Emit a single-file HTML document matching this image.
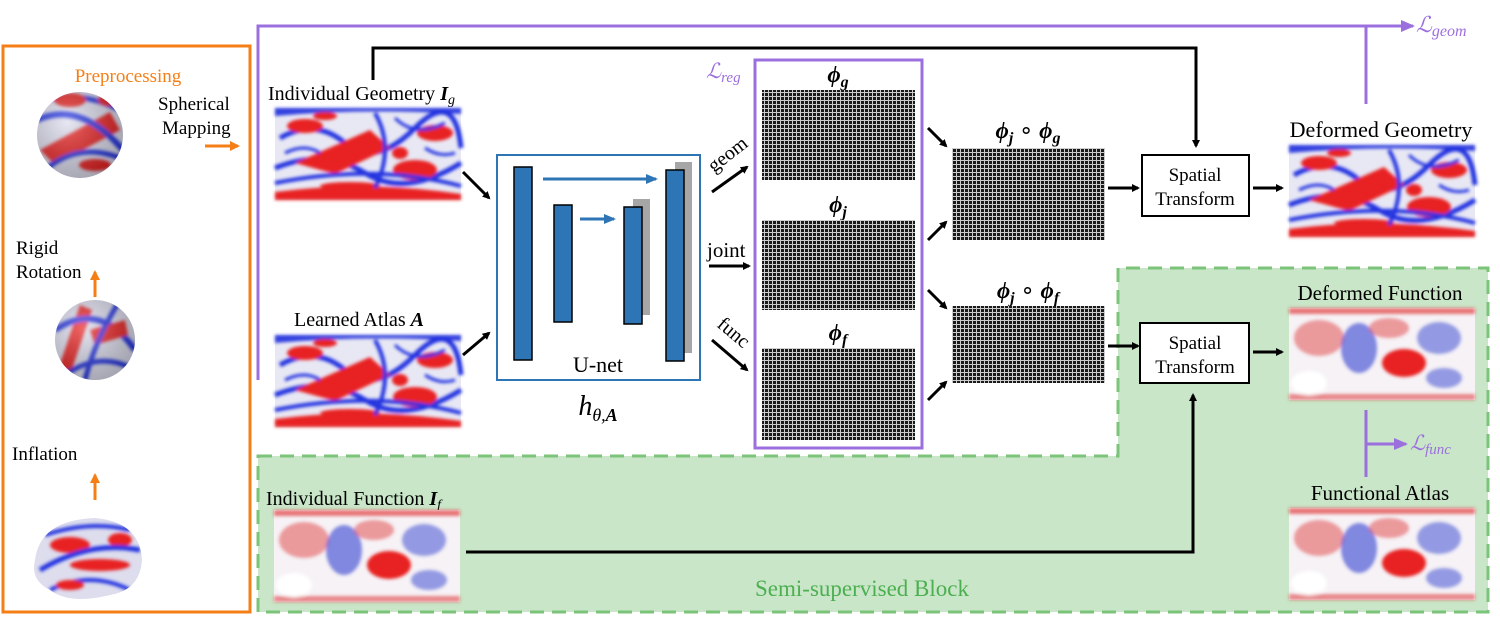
<!DOCTYPE html>
<html><head><meta charset="utf-8"><style>
body{margin:0;background:#fff;width:1500px;height:627px;overflow:hidden}
svg{display:block}
text{font-family:"Liberation Serif",serif}
</style></head><body>
<svg width="1500" height="627" viewBox="0 0 1500 627">
<defs>
<marker id="ab" markerWidth="8" markerHeight="8" refX="6" refY="4" orient="auto" markerUnits="userSpaceOnUse"><path d="M0,0 L8,4 L0,8 z" fill="#000"/></marker>
<marker id="ao" markerWidth="10" markerHeight="10" refX="8" refY="5" orient="auto" markerUnits="userSpaceOnUse"><path d="M0,0 L10,5 L0,10 z" fill="#f57f17"/></marker>
<marker id="ap" markerWidth="14" markerHeight="12" refX="12" refY="6" orient="auto" markerUnits="userSpaceOnUse"><path d="M0,0 L14,6 L0,12 z" fill="#9c6fde"/></marker>
<marker id="abl" markerWidth="12" markerHeight="10" refX="10" refY="5" orient="auto" markerUnits="userSpaceOnUse"><path d="M0,0 L12,5 L0,10 z" fill="#2e75b6"/></marker>
<pattern id="grid" width="4" height="4" patternUnits="userSpaceOnUse"><rect width="4" height="4" fill="#1a1a1a"/><path d="M0,0.5H4M0.5,0V4" stroke="#ccc" stroke-width="1"/></pattern>
<filter id="bl"><feGaussianBlur stdDeviation="1.5"/></filter>
<radialGradient id="sph" cx="0.35" cy="0.35" r="0.7"><stop offset="0" stop-color="#fff" stop-opacity="0.3"/><stop offset="1" stop-color="#000" stop-opacity="0.25"/></radialGradient>
<g id="geo">
<rect width="186" height="92" fill="#e8e8f4"/>
<g filter="url(#bl)">
<path d="M0,84 Q90,72 186,86 L186,92 L0,92z" fill="#e82020"/>
<path d="M0,8 Q90,0 186,6 L186,0 L0,0z" fill="#3040e0"/>
<path d="M5,30 Q40,10 70,35 T140,20 T186,40" stroke="#2030e0" stroke-width="5" fill="none"/>
<path d="M0,60 Q50,40 90,65 T186,55" stroke="#2030e0" stroke-width="5" fill="none"/>
<path d="M20,55 L95,22 L115,40 L60,66z" fill="#e82020"/>
<ellipse cx="140" cy="62" rx="22" ry="10" fill="#e82020"/>
<ellipse cx="30" cy="18" rx="18" ry="7" fill="#e82020"/>
<ellipse cx="160" cy="25" rx="18" ry="8" fill="#e82020"/>
<ellipse cx="75" cy="78" rx="30" ry="4" fill="#e82020"/>
<path d="M0,75 Q100,55 186,78" stroke="#2030e0" stroke-width="4" fill="none"/>
<path d="M100,5 Q120,40 100,80" stroke="#2030e0" stroke-width="4" fill="none"/>
<path d="M10,45 Q30,35 45,45 M120,10 Q140,30 170,15 M150,40 Q165,50 180,45" stroke="#2030e0" stroke-width="3" fill="none"/>
<ellipse cx="50" cy="8" rx="12" ry="4" fill="#e82020"/>
<ellipse cx="125" cy="45" rx="8" ry="6" fill="#e82020"/>
</g></g>
<g id="fun">
<rect width="186" height="92" fill="#f6f2f6"/>
<g filter="url(#bl)">
<rect x="0" y="0" width="186" height="6" fill="#e04040" opacity="0.7"/>
<rect x="0" y="86" width="186" height="6" fill="#e04040" opacity="0.6"/>
<ellipse cx="30" cy="30" rx="25" ry="18" fill="#e04040" opacity="0.5"/>
<ellipse cx="70" cy="40" rx="18" ry="25" fill="#3040d0" opacity="0.6"/>
<ellipse cx="115" cy="55" rx="22" ry="14" fill="#e82020"/>
<ellipse cx="150" cy="30" rx="22" ry="16" fill="#3040d0" opacity="0.5"/>
<ellipse cx="100" cy="20" rx="20" ry="10" fill="#e04040" opacity="0.5"/>
<ellipse cx="155" cy="70" rx="18" ry="10" fill="#3040d0" opacity="0.5"/>
<ellipse cx="20" cy="75" rx="18" ry="12" fill="#fff"/>
</g></g>
</defs>

<path d="M258,456 H1118 V268 H1488 V612 H258 Z" fill="#c9e6c8" stroke="#7cc47a" stroke-width="3" stroke-dasharray="14,8"/>
<text x="862" y="596" font-size="23" fill="#4caf50" text-anchor="middle">Semi-supervised Block</text>

<rect x="3" y="46" width="247" height="566" fill="none" stroke="#f57f17" stroke-width="3"/>
<text x="128" y="82" font-size="19" fill="#f57f17" text-anchor="middle">Preprocessing</text>
<g><circle cx="80" cy="135" r="43" fill="#dde"/><clipPath id="c1"><circle cx="80" cy="135" r="43"/></clipPath><g clip-path="url(#c1)" filter="url(#bl)"><path d="M40,150 L110,112 L120,130 L55,165z" fill="#e82020"/><path d="M37,120 Q80,100 123,150" stroke="#2030e0" stroke-width="6" fill="none"/><path d="M45,170 Q80,140 125,160" stroke="#2030e0" stroke-width="5" fill="none"/><path d="M40,100 Q80,90 120,110" stroke="#2030e0" stroke-width="5" fill="none"/><ellipse cx="70" cy="100" rx="16" ry="7" fill="#e82020"/><ellipse cx="95" cy="165" rx="16" ry="6" fill="#e82020"/><ellipse cx="108" cy="100" rx="10" ry="6" fill="#e82020"/></g><circle cx="80" cy="135" r="43" fill="url(#sph)"/></g>
<g><circle cx="95" cy="340" r="40" fill="#dde"/><clipPath id="c2"><circle cx="95" cy="340" r="40"/></clipPath><g clip-path="url(#c2)" filter="url(#bl)"><path d="M58,370 L80,305 L92,310 L70,375z" fill="#e82020"/><path d="M55,330 Q100,300 135,350" stroke="#2030e0" stroke-width="6" fill="none"/><path d="M65,375 Q100,350 135,370" stroke="#2030e0" stroke-width="5" fill="none"/><path d="M90,330 L125,320 L128,335 L95,345z" fill="#e82020"/><path d="M85,380 Q95,340 120,300" stroke="#2030e0" stroke-width="5" fill="none"/></g><circle cx="95" cy="340" r="40" fill="url(#sph)"/></g>
<g><clipPath id="c3"><path d="M35,560 Q40,520 95,518 Q140,522 142,560 Q140,590 110,595 Q70,605 50,590 Q30,580 35,560z"/></clipPath><path d="M35,560 Q40,520 95,518 Q140,522 142,560 Q140,590 110,595 Q70,605 50,590 Q30,580 35,560z" fill="#dde"/><g clip-path="url(#c3)" filter="url(#bl)"><ellipse cx="70" cy="545" rx="20" ry="8" fill="#e82020"/><ellipse cx="100" cy="565" rx="30" ry="6" fill="#e82020"/><ellipse cx="120" cy="540" rx="12" ry="7" fill="#e82020"/><path d="M40,570 Q90,540 140,550" stroke="#2030e0" stroke-width="5" fill="none"/><path d="M50,590 Q90,570 130,590" stroke="#2030e0" stroke-width="4" fill="none"/><path d="M45,535 Q90,520 130,530" stroke="#2030e0" stroke-width="4" fill="none"/><ellipse cx="70" cy="585" rx="14" ry="5" fill="#e82020"/></g></g>
<line x1="95" y1="500" x2="95" y2="475" stroke="#f57f17" stroke-width="3" marker-end="url(#ao)"/>
<text x="12" y="460" font-size="19">Inflation</text>
<line x1="95" y1="297" x2="95" y2="272" stroke="#f57f17" stroke-width="3" marker-end="url(#ao)"/>
<text x="16" y="254" font-size="19">Rigid</text>
<text x="16" y="278" font-size="19">Rotation</text>
<text x="158" y="110" font-size="19">Spherical</text>
<text x="162" y="134" font-size="19">Mapping</text>
<line x1="205" y1="146" x2="238" y2="146" stroke="#f57f17" stroke-width="3" marker-end="url(#ao)"/>

<polyline points="258,380 258,26 1413,26" fill="none" stroke="#9c6fde" stroke-width="3" marker-end="url(#ap)"/>
<line x1="1366" y1="26" x2="1366" y2="104" stroke="#9c6fde" stroke-width="3"/>
<text x="1416" y="32" font-size="22" font-style="italic" fill="#9c6fde">ℒ<tspan font-size="16" dy="4">geom</tspan></text>

<polyline points="373,80 373,48 1196,48 1196,146" fill="none" stroke="#000" stroke-width="3" marker-end="url(#ab)"/>

<text x="268" y="100" font-size="20">Individual Geometry <tspan font-style="italic" font-weight="bold">I</tspan><tspan font-size="14" font-style="italic" dy="4">g</tspan></text>
<use href="#geo" x="275" y="108"/>
<text x="294" y="326" font-size="20">Learned Atlas <tspan font-style="italic" font-weight="bold">A</tspan></text>
<use href="#geo" x="275" y="335"/>
<text x="266" y="505" font-size="20">Individual Function <tspan font-style="italic" font-weight="bold">I</tspan><tspan font-size="14" font-style="italic" dy="4">f</tspan></text>
<use href="#fun" x="274" y="510"/>
<line x1="463" y1="172" x2="489" y2="198" stroke="#000" stroke-width="3" marker-end="url(#ab)"/>
<line x1="463" y1="355" x2="489" y2="333" stroke="#000" stroke-width="3" marker-end="url(#ab)"/>
<polyline points="466,552 1193,552 1193,395" fill="none" stroke="#000" stroke-width="3" marker-end="url(#ab)"/>

<rect x="497" y="155" width="203" height="225" fill="#fff" stroke="#2e75b6" stroke-width="2"/>
<rect x="675" y="162" width="17" height="191" fill="#a6a6a6"/>
<rect x="633" y="199" width="17" height="116" fill="#a6a6a6"/>
<rect x="514" y="167" width="18" height="193" fill="#2e75b6" stroke="#000" stroke-width="1.5"/>
<rect x="554" y="205" width="18" height="117" fill="#2e75b6" stroke="#000" stroke-width="1.5"/>
<rect x="624" y="207" width="18" height="117" fill="#2e75b6" stroke="#000" stroke-width="1.5"/>
<rect x="666" y="170" width="18" height="191" fill="#2e75b6" stroke="#000" stroke-width="1.5"/>
<line x1="543" y1="179" x2="656" y2="179" stroke="#2e75b6" stroke-width="3" marker-end="url(#abl)"/>
<line x1="580" y1="219" x2="614" y2="219" stroke="#2e75b6" stroke-width="3" marker-end="url(#abl)"/>
<text x="598" y="372" font-size="22" text-anchor="middle">U-net</text>
<text x="598" y="415" font-size="28" font-style="italic" text-anchor="middle">h<tspan font-size="18" dy="6">θ,</tspan><tspan font-size="18" font-weight="bold">A</tspan></text>

<line x1="712" y1="192" x2="747" y2="167" stroke="#000" stroke-width="3" marker-end="url(#ab)"/>
<text x="714" y="173" font-size="20" transform="rotate(-38 714 173)">geom</text>
<line x1="709" y1="266" x2="749" y2="266" stroke="#000" stroke-width="3" marker-end="url(#ab)"/>
<text x="707" y="257" font-size="21">joint</text>
<line x1="712" y1="340" x2="747" y2="370" stroke="#000" stroke-width="3" marker-end="url(#ab)"/>
<text x="716" y="326" font-size="20" transform="rotate(40 716 326)">func</text>

<rect x="755" y="60" width="167" height="388" fill="#fff" stroke="#9c6fde" stroke-width="3"/>
<text x="706" y="78" font-size="21" font-style="italic" fill="#9c6fde">ℒ<tspan font-size="15" dy="4">reg</tspan></text>
<text x="838" y="82" font-size="23" font-weight="bold" font-style="italic" text-anchor="middle">ϕ<tspan font-size="16" dy="5">g</tspan></text>
<rect x="762" y="90" width="153" height="90" fill="url(#grid)"/>
<text x="838" y="212" font-size="23" font-weight="bold" font-style="italic" text-anchor="middle">ϕ<tspan font-size="16" dy="5">j</tspan></text>
<rect x="762" y="220" width="153" height="90" fill="url(#grid)"/>
<text x="838" y="340" font-size="23" font-weight="bold" font-style="italic" text-anchor="middle">ϕ<tspan font-size="16" dy="5">f</tspan></text>
<rect x="762" y="348" width="153" height="92" fill="url(#grid)"/>

<line x1="928" y1="128" x2="946" y2="146" stroke="#000" stroke-width="3" marker-end="url(#ab)"/>
<line x1="928" y1="240" x2="946" y2="222" stroke="#000" stroke-width="3" marker-end="url(#ab)"/>
<line x1="928" y1="290" x2="946" y2="308" stroke="#000" stroke-width="3" marker-end="url(#ab)"/>
<line x1="928" y1="400" x2="946" y2="382" stroke="#000" stroke-width="3" marker-end="url(#ab)"/>
<text x="1028" y="138" font-size="23" font-weight="bold" font-style="italic" text-anchor="middle">ϕ<tspan font-size="16" dy="5">j</tspan><tspan dy="-5" font-weight="normal" font-style="normal"> ∘ </tspan>ϕ<tspan font-size="16" dy="5">g</tspan></text>
<rect x="952" y="148" width="153" height="92" fill="url(#grid)"/>
<text x="1028" y="298" font-size="23" font-weight="bold" font-style="italic" text-anchor="middle">ϕ<tspan font-size="16" dy="5">j</tspan><tspan dy="-5" font-weight="normal" font-style="normal"> ∘ </tspan>ϕ<tspan font-size="16" dy="5">f</tspan></text>
<rect x="952" y="306" width="153" height="77" fill="url(#grid)"/>

<line x1="1108" y1="188" x2="1138" y2="188" stroke="#000" stroke-width="3" marker-end="url(#ab)"/>
<rect x="1142" y="155" width="107" height="61" fill="#fff" stroke="#000" stroke-width="2"/>
<text x="1195" y="181" font-size="19" text-anchor="middle">Spatial</text>
<text x="1195" y="205" font-size="19" text-anchor="middle">Transform</text>
<line x1="1253" y1="188" x2="1282" y2="188" stroke="#000" stroke-width="3" marker-end="url(#ab)"/>
<line x1="1108" y1="346" x2="1138" y2="346" stroke="#000" stroke-width="3" marker-end="url(#ab)"/>
<rect x="1140" y="323" width="109" height="60" fill="#fff" stroke="#000" stroke-width="2"/>
<text x="1195" y="349" font-size="19" text-anchor="middle">Spatial</text>
<text x="1195" y="373" font-size="19" text-anchor="middle">Transform</text>
<line x1="1253" y1="352" x2="1282" y2="352" stroke="#000" stroke-width="3" marker-end="url(#ab)"/>

<text x="1381" y="137" font-size="22" text-anchor="middle">Deformed Geometry</text>
<use href="#geo" x="1289" y="145"/>
<text x="1380" y="300" font-size="21" text-anchor="middle">Deformed Function</text>
<use href="#fun" x="1289" y="308"/>
<line x1="1366" y1="410" x2="1366" y2="477" stroke="#9c6fde" stroke-width="3"/>
<line x1="1366" y1="444" x2="1406" y2="444" stroke="#9c6fde" stroke-width="3" marker-end="url(#ap)"/>
<text x="1410" y="450" font-size="21" font-style="italic" fill="#9c6fde">ℒ<tspan font-size="15" dy="4">func</tspan></text>
<text x="1380" y="500" font-size="21" text-anchor="middle">Functional Atlas</text>
<use href="#fun" x="1289" y="508"/>
</svg>
</body></html>
